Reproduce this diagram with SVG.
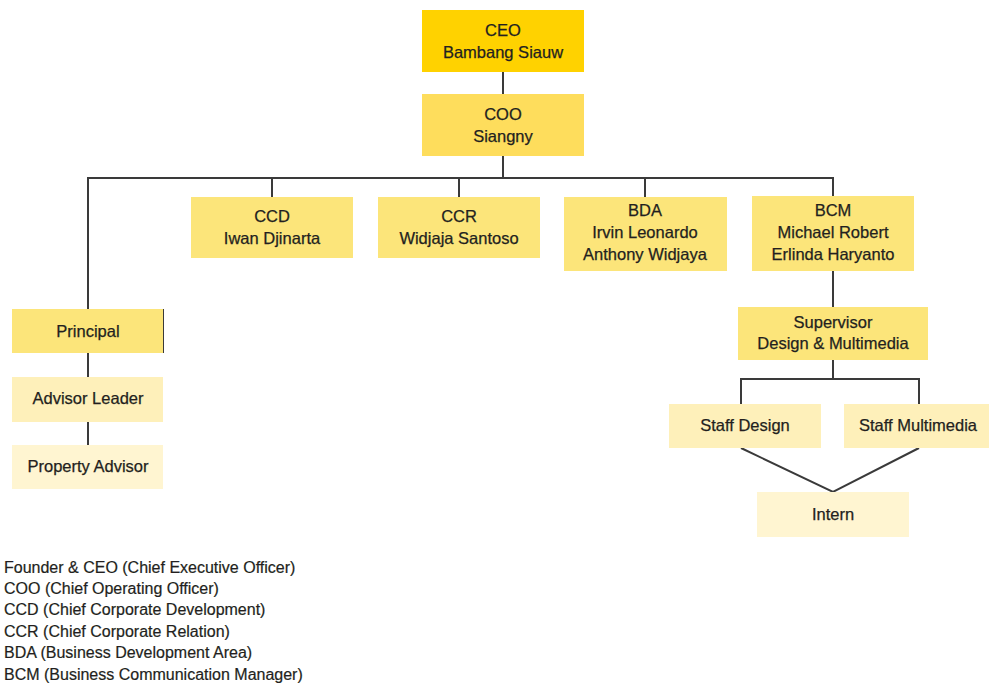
<svg xmlns="http://www.w3.org/2000/svg" width="989" height="683" viewBox="0 0 989 683">
<style>
text{font-family:"Liberation Sans",Arial,sans-serif;font-size:16.5px;fill:#231f20;text-anchor:middle;stroke:#231f20;stroke-width:0.25}
.leg text{text-anchor:start;font-size:16px;stroke-width:0.2}
.c line,.c polyline{stroke:#3a3a3a;stroke-width:2;fill:none}
.l1{fill:#FFD200}.l2{fill:#FEDD5C}.l3{fill:#FCE57A}.l4{fill:#FEF0BA}.l5{fill:#FFF5D1}
</style>
<rect width="989" height="683" fill="#fff"/>
<g class="c" id="connectors">
<line x1="503" y1="72" x2="503" y2="94"/>
<line x1="503" y1="156" x2="503" y2="178"/>
<polyline points="88,309 88,178 833,178 833,196"/>
<line x1="272" y1="178" x2="272" y2="197"/>
<line x1="459" y1="178" x2="459" y2="197"/>
<line x1="645" y1="178" x2="645" y2="197"/>
<line x1="163" y1="309" x2="163" y2="353"/>
<line x1="88" y1="353" x2="88" y2="377"/>
<line x1="88" y1="422" x2="88" y2="445"/>
<line x1="833" y1="271" x2="833" y2="307"/>
<line x1="833" y1="360" x2="833" y2="379"/>
<polyline points="741,404 741,379 919,379 919,404"/>
<polyline points="741,448 833,492 919,448"/>
</g>
<g id="ceo"><rect class="l1" x="422" y="10" width="162" height="62"/><text x="503" y="36">CEO</text><text x="503" y="58">Bambang Siauw</text></g>
<g id="coo"><rect class="l2" x="422" y="94" width="162" height="62"/><text x="503" y="120">COO</text><text x="503" y="142">Siangny</text></g>
<g id="ccd"><rect class="l3" x="191" y="197" width="162" height="61"/><text x="272" y="222">CCD</text><text x="272" y="244">Iwan Djinarta</text></g>
<g id="ccr"><rect class="l3" x="378" y="197" width="162" height="61"/><text x="459" y="222">CCR</text><text x="459" y="244">Widjaja Santoso</text></g>
<g id="bda"><rect class="l3" x="564" y="197" width="163" height="74"/><text x="645" y="216">BDA</text><text x="645" y="238">Irvin Leonardo</text><text x="645" y="260">Anthony Widjaya</text></g>
<g id="bcm"><rect class="l3" x="752" y="196" width="162" height="75"/><text x="833" y="216">BCM</text><text x="833" y="238">Michael Robert</text><text x="833" y="260">Erlinda Haryanto</text></g>
<g id="principal"><rect class="l3" x="12" y="309" width="151" height="44"/><text x="88" y="337">Principal</text></g>
<g id="advisor-leader"><rect class="l4" x="12" y="377" width="151" height="45"/><text x="88" y="404">Advisor Leader</text></g>
<g id="property-advisor"><rect class="l5" x="12" y="445" width="151" height="44"/><text x="88" y="472">Property Advisor</text></g>
<g id="supervisor"><rect class="l3" x="738" y="307" width="190" height="53"/><text x="833" y="328">Supervisor</text><text x="833" y="349">Design &amp; Multimedia</text></g>
<g id="staff-design"><rect class="l4" x="669" y="404" width="152" height="44"/><text x="745" y="431">Staff Design</text></g>
<g id="staff-multimedia"><rect class="l4" x="844" y="404" width="145" height="44"/><text x="918" y="431">Staff Multimedia</text></g>
<g id="intern"><rect class="l5" x="757" y="492" width="152" height="45"/><text x="833" y="520">Intern</text></g>
<g class="leg" id="legend">
<text x="4" y="573">Founder &amp; CEO (Chief Executive Officer)</text>
<text x="4" y="594">COO (Chief Operating Officer)</text>
<text x="4" y="615">CCD (Chief Corporate Development)</text>
<text x="4" y="637">CCR (Chief Corporate Relation)</text>
<text x="4" y="658">BDA (Business Development Area)</text>
<text x="4" y="680">BCM (Business Communication Manager)</text>
</g>
</svg>
